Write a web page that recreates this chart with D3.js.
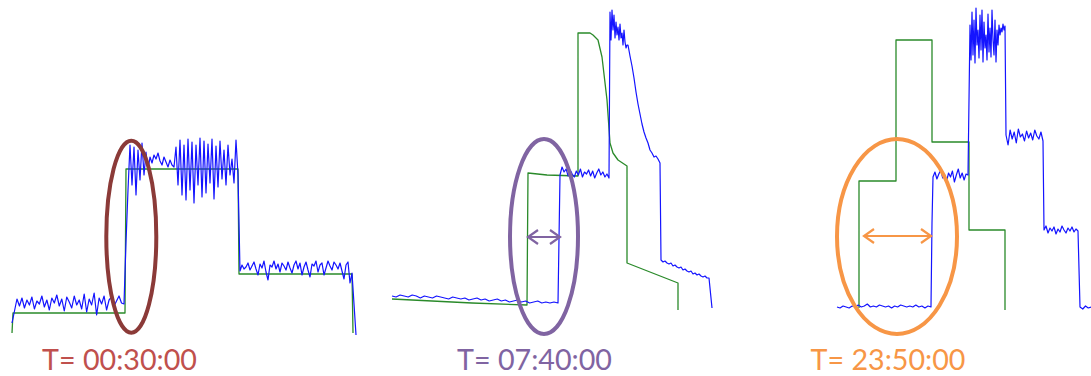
<!DOCTYPE html>
<html><head><meta charset="utf-8">
<script src="https://cdn.jsdelivr.net/npm/d3@7"></script>
<style>body{margin:0;background:#fff}svg{display:block}</style>
</head><body>
<svg id="c" width="1091" height="376"></svg>
<script>
// ---------- labels / colours ----------
const labels = ["T= 00:30:00", "T= 07:40:00", "T= 23:50:00"];
const labelColors = ["#C0504D", "#8064A2", "#F79646"];
const ringColors = ["#8B3A38", "#8064A2", "#F79646"];

// ---------- panel 1 ----------
const p1Green = [[0,2],[1,22],[113,22],[114,166],[226,166],[227,61],[340,61],[341,2]];
const p1BlueA = [12,24,36,29,37,27,35,30,38,26,34,31,39,28,35,25,37,32,40,29,36,24,38,33,27,39,30,35,26,41,23,36,30,42,20,37,31,39,25,35,38,29,34,39,32,31];
const p1BlueB = [93,145,190,150,188,140,185,155,192,160,183,165,178,172,180,176,182,174,170,178,173,168,175,170,168,188,150,195,140,190,135,196,145,193,132,190,150,197,138,194,142,191,152,196,136,189,148,194,156,185,150,190,160,176,152,195,160];
const p1BlueC = [64,70,66,68,72,65,69,73,66,60,71,67,74,63,55,70,68,74,66,71,63,72,69,65,73,67,62,70,74,66,72,60,68,73,65,58,71,69,74,63,70,72,60,67,74,69,65,73,70,66,72,64,56,70,73,52,62];
const p1BlueD = [0];

// ---------- panel 2 ----------
const p2Green = [[0,36],[80,32],[135,30],[136,162],[155,160],[186,159],[186,302],[198,302],[201,300],[206,295],[210,278],[215,235],[218,192],[221,182],[226,175],[235,169],[235,72],[286,52],[286,25]];
const p2BlueA = [39,38,40,39,38,40,39,37,39,38,37,39,38,37,36,38,37,36,37,35,36,37,35,36,34,35,36,34,35,33,34,35,33,34,32,33,34,32,33,32,33,32];
const p2BlueB = [160,168,163,166,159,165,161,158,164,160,166,158,163,161,165,159,164,157,162,166,160,163,158,161,157];
const p2BlueC = [323,295,325,305,320,297,313,300,308,295,311,297,302,290,305,293,287,290];
const p2BlueD = [290,279,269,257,243,231,221,211,203,197,192,185,182,178,179,176,172];
const p2BlueE = [75,73,74,72,71,72,69,70,68,67,68,65,66,64,63,64,61,62,60,61,59,58,59,57,57];
const p2BlueF = [27];

// ---------- panel 3 ----------
const p3Green = [[22,27],[22,154],[59,154],[59,295],[95,295],[95,193],[132,193],[132,105],[168,105],[168,25]];
const p3BlueA = [28,27,29,28,27,29,28,30,28,29,31,28,29,28,30,29,28,29,27,29,28,30,29,28,29,28,30,28,29,27,29,28];
const p3BlueB0 = [112];
const p3BlueB = [158,163,156,161,165,157,160,154,162,158,164,153,160,166,157,162,155,161,160];
const p3BlueC = [310,275,323,280,315,272,327,290,305,277,320,285,325,273,313,287,300,275,321,283,307,278,325,295,280,315,273,305,290,310,300,307,303,311,305,309];
const p3BlueD = [200,190,205,196,203,192,206,198,201,194,204,197,202,195,205,199,196,203,194];
const p3BlueE = [105,109,102,107,104,108,101,106,103,109,105,102,107,104,108,103,106,104];
const p3BlueF = [28,26,29,27,28];

// segments: [startTime, endTime, samples]
const panels = [
  { domain:[0,350], range:[12,362], green:p1Green,
    blue:[[0,112,p1BlueA],[114,226,p1BlueB],[228,340,p1BlueC],[344,344,p1BlueD]],
    ring:[119.3,98.3,25,96], arrow:null, labelT:107.5 },
  { domain:[0,320], range:[392,712], green:p2Green,
    blue:[[0,166,p2BlueA],[168,217,p2BlueB],[218,235,p2BlueC],[236,268,p2BlueD],[269,317,p2BlueE],[320,320,p2BlueF]],
    ring:[152,98.5,34,97.5], arrow:[136,168,98], labelT:142.5 },
  { domain:[0,254], range:[837,1091], green:p3Green,
    blue:[[0,94,p3BlueA],[95,95,p3BlueB0],[96,131,p3BlueB],[133,168,p3BlueC],[169,206,p3BlueD],[207,241,p3BlueE],[243,254,p3BlueF]],
    ring:[60,98.5,60,97.5], arrow:[27,94,99], labelT:51 }
];

const svg = d3.select("#c");
const y = d3.scaleLinear().domain([0,330]).range([335,5]);
const labelV = -35;

panels.forEach((p, i) => {
  const x = d3.scaleLinear().domain(p.domain).range(p.range);
  const line = d3.line().x(d => x(d[0])).y(d => y(d[1]));
  const g = svg.append("g");

  g.append("path").attr("d", line(p.green))
    .attr("fill","none").attr("stroke","#2a8a2a").attr("stroke-width",1.3)
    .attr("stroke-linejoin","round");

  const bluePts = [];
  p.blue.forEach(([t0,t1,vals]) => {
    const n = vals.length;
    vals.forEach((v,k) => bluePts.push([n > 1 ? t0 + (t1-t0)*k/(n-1) : t0, v]));
  });
  g.append("path").attr("d", line(bluePts))
    .attr("fill","none").attr("stroke","#1414ff").attr("stroke-width",1.2)
    .attr("stroke-linejoin","round");

  const [ct, cv, rt, rv] = p.ring;
  g.append("ellipse")
    .attr("cx", x(ct)).attr("cy", y(cv))
    .attr("rx", x(ct+rt)-x(ct)).attr("ry", y(cv)-y(cv+rv))
    .attr("fill","none").attr("stroke", ringColors[i]).attr("stroke-width",4);

  if (p.arrow) {
    const [a0,a1,av] = p.arrow;
    const x0 = x(a0), x1 = x(a1), yy = y(av);
    const path = d3.path();
    path.moveTo(x0,yy); path.lineTo(x1,yy);
    path.moveTo(x0+10,yy-7); path.lineTo(x0,yy); path.lineTo(x0+10,yy+7);
    path.moveTo(x1-10,yy-7); path.lineTo(x1,yy); path.lineTo(x1-10,yy+7);
    g.append("path").attr("d", path.toString())
      .attr("fill","none").attr("stroke", ringColors[i]).attr("stroke-width",2.2)
      .attr("stroke-linejoin","miter");
  }

  g.append("text")
    .attr("x", x(p.labelT)).attr("y", y(labelV))
    .attr("text-anchor","middle")
    .attr("font-family","Lato, 'Open Sans', sans-serif")
    .attr("font-size", 28)
    .attr("textLength", 155).attr("lengthAdjust","spacingAndGlyphs")
    .attr("fill", labelColors[i])
    .text(labels[i]);
});
</script>
</body></html>
